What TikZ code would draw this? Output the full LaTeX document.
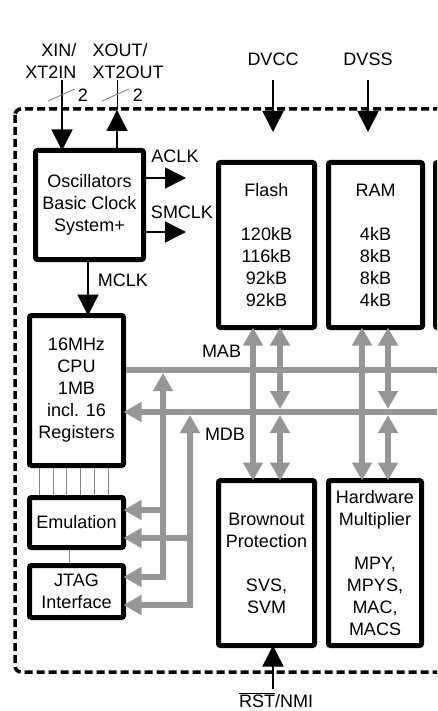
\documentclass[tikz,border=0pt]{standalone}
\usepackage{fontspec}
\setmainfont{Liberation Sans}
\usepackage{xcolor}
\usetikzlibrary{arrows.meta}
\definecolor{busgray}{RGB}{150,150,150}

\begin{document}
\begin{tikzpicture}[x=1pt,y=-1pt,font=\fontsize{18pt}{22pt}\selectfont,
  block/.style={draw,line width=5pt,rounded corners=2pt,fill=white,inner sep=0pt,align=center},
  sig/.style={line width=1.5pt,>={Triangle[length=21pt,width=21pt]},->},
  bus/.style={busgray,line width=5.5pt,>={Triangle[length=18pt,width=19pt]}},
  link/.style={gray,line width=0.8pt}]
  \useasboundingbox (0,0) rectangle (437,711);
  \clip (0,0) rectangle (437,711);
  \draw[line width=3.5pt,dash pattern=on 8pt off 4pt,rounded corners=6pt] (15,109) rectangle (470,672);

  \node[block,minimum width=108pt,minimum height=109pt] (osc) at (89.5,205) {Oscillators\\Basic Clock\\System+};
  \node[block,minimum width=94pt,minimum height=150pt] (cpu) at (76.5,390.5) {16MHz\\CPU\\1MB\\incl. 16\\Registers};
  \node[block,minimum width=94pt,minimum height=50pt] (emu) at (76.5,522.5) {Emulation};
  \node[block,minimum width=94pt,minimum height=52pt] (jtag) at (76.5,591.5) {JTAG\\Interface};
  \node[block,minimum width=96pt,minimum height=165pt] (flash) at (266.5,245) {Flash\\[22pt]120kB\\116kB\\92kB\\92kB};
  \node[block,minimum width=94pt,minimum height=165pt] (ram) at (375.5,245) {RAM\\[22pt]4kB\\8kB\\8kB\\4kB};
  \node[block,minimum width=94pt,minimum height=165pt] (periph) at (482.5,245) {};
  \node[block,minimum width=96pt,minimum height=165pt] (brown) at (266.5,563) {Brownout\\Protection\\[22pt]SVS,\\SVM};
  \node[block,minimum width=93pt,minimum height=165pt] (hwmul) at (375,563) {Hardware\\Multiplier\\[22pt]MPY,\\MPYS,\\MAC,\\MACS};

  \node[align=right,anchor=east] (xinlbl) at (80,61) {XIN/\\XT2IN};
  \node[align=left,anchor=west] (xoutlbl) at (89,61) {XOUT/\\XT2OUT};
  \coordinate (xin) at (62,80);
  \coordinate (xout) at (117,80);
  \coordinate (xouttip) at (117,110);
  \draw[sig,shorten >=-2.5pt] (xin) -- (xin |- osc.north);
  \draw[sig] (xout |- osc.north) -- (xouttip);
  \draw[line width=1pt] (xouttip) -- (xout);
  \draw[link] (48,101) -- (75,89);
  \draw[link] (102,101) -- (129,89);
  \node (xinw) at (83,95) {2};
  \node (xoutw) at (138,95) {2};

  \coordinate (aclk) at (186,178);
  \coordinate (smclk) at (186,232);
  \coordinate (mclk) at (88,280);
  \draw[sig] (osc.east |- aclk) -- (aclk);
  \draw[sig] (osc.east |- smclk) -- (smclk);
  \draw[sig,shorten >=-2.5pt] (osc.south -| mclk) -- (cpu.north -| mclk);
  \node (aclklbl) at (175,156) {ACLK};
  \node (smclklbl) at (182,212) {SMCLK};
  \node (mclklbl) at (123,280) {MCLK};

  \node (dvcc) at (273,59) {DVCC};
  \node (dvss) at (368,59) {DVSS};
  \coordinate (dvccend) at (273,132);
  \coordinate (dvssend) at (368,132);
  \draw[sig,shorten <=11pt] (dvcc.south) -- (dvccend);
  \draw[sig,shorten <=11pt] (dvss.south) -- (dvssend);

  \node (rst) at (276,700) {$\overline{\hbox{RST}}$/NMI};
  \coordinate (rstbot) at (273,689);
  \draw[sig,shorten >=-2.5pt] (rstbot) -- (rstbot |- brown.south);

  \foreach \dx in {12.5,26.5,39.5,53.5,67.5,81.5}
    \draw[link] ([xshift=\dx pt]cpu.south west) -- ([xshift=\dx pt]emu.north west);
  \draw[link] ([xshift=-7.5pt]emu.south) -- ([xshift=-7.5pt]jtag.north);

  \coordinate (mabR) at (460,370);
  \coordinate (mdbR) at (460,412);
  \draw[bus] (cpu.east |- mabR) -- (mabR);
  \draw[bus,->,shorten >=-2.5pt] (mdbR) -- (cpu.east |- mdbR);
  \node (mablbl) at (221.5,351) {MAB};
  \node (mdblbl) at (225,434) {MDB};

  \coordinate (e1) at (163,510);
  \coordinate (j1) at (163,577);
  \coordinate (e2) at (190,538);
  \coordinate (j2) at (190,605);
  \draw[bus,<->,shorten <=3pt,shorten >=-2.5pt] (j1 |- mabR) -- (j1) -- (jtag.east |- j1);
  \draw[bus,->,shorten >=-2.5pt] (e1) -- (emu.east |- e1);
  \draw[bus,<->,shorten <=3pt,shorten >=-2.5pt] (j2 |- mdbR) -- (j2) -- (jtag.east |- j2);
  \draw[bus,->,shorten >=-2.5pt] (e2) -- (emu.east |- e2);

  \foreach \cx/\mem/\per in {253/flash/brown,362/ram/hwmul} {
    \coordinate (col) at (\cx,0);
    \draw[bus,<->,shorten <=-2.5pt,shorten >=-2.5pt] (col |- \mem.south) -- (col |- \per.north);
  }
  \foreach \cx/\mem/\per in {280/flash/brown,388/ram/hwmul} {
    \coordinate (col) at (\cx,0);
    \draw[bus,<->,shorten <=-2.5pt,shorten >=3pt] (col |- \mem.south) -- (col |- mdbR);
    \draw[bus,<->,shorten <=3pt,shorten >=-2.5pt] (col |- mdbR) -- (col |- \per.north);
  }
\end{tikzpicture}
\end{document}
